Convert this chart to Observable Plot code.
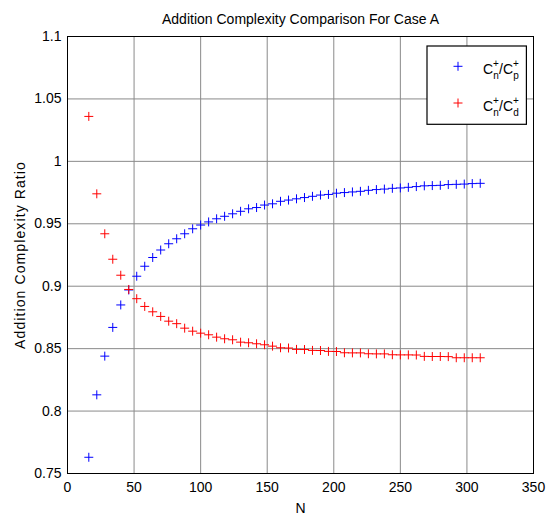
<!DOCTYPE html>
<html><head><meta charset="utf-8">
<script src="https://cdn.jsdelivr.net/npm/d3@7"></script>
<script src="https://cdn.jsdelivr.net/npm/@observablehq/plot@0.6"></script>
<style>
body{margin:0;background:#fff}
svg{font-family:"Liberation Sans",Arial,Helvetica,sans-serif}
</style>
</head><body><div id="chart"></div>
<script>
const N = [16,22,28,34,40,46,52,58,64,70,76,82,88,94,100,106,112,118,124,130,136,142,148,154,160,166,172,178,184,190,196,202,208,214,220,226,232,238,244,250,256,262,268,274,280,286,292,298,304,310];
const ratioP = [0.763,0.813,0.844,0.867,0.885,0.897,0.908,0.916,0.923,0.929,0.934,0.938,0.942,0.946,0.949,0.9515,0.954,0.956,0.958,0.960,0.962,0.963,0.965,0.966,0.968,0.969,0.970,0.971,0.972,0.973,0.9735,0.9745,0.975,0.9755,0.976,0.9768,0.9774,0.9778,0.9784,0.9787,0.9792,0.9798,0.9804,0.9806,0.9808,0.9814,0.9816,0.9818,0.9822,0.9824];
const ratioD = [1.036,0.974,0.942,0.9216,0.9088,0.8974,0.890,0.8838,0.8795,0.8758,0.872,0.870,0.8664,0.864,0.8624,0.8611,0.8592,0.8579,0.8571,0.8552,0.8547,0.8539,0.8531,0.852,0.8507,0.8505,0.8494,0.8493,0.8486,0.8485,0.8478,0.8477,0.8467,0.8466,0.8466,0.8459,0.8458,0.8458,0.8451,0.845,0.845,0.8449,0.8438,0.8437,0.8437,0.8436,0.8427,0.8427,0.8427,0.8427];
const xTicks = [0,50,100,150,200,250,300,350];
const yTicks = [0.75,0.8,0.85,0.9,0.95,1,1.05,1.1];
const yTickLabels = ["0.75","0.8","0.85","0.9","0.95","1","1.05","1.1"];
const seriesColors = ["#0000ff","#ff0000"];
const seriesSub = ["p","d"];
const titleText = "Addition Complexity Comparison For Case A";
const xLabel = "N";
const yLabel = "Addition Complexity Ratio";

(function(){
const W = 549, H = 517;
const mL = 67, mR = 16, mT = 36, mB = 44;
const dotR = 3.0;

const seriesP = N.map((n,i)=>({N:n, ratio:ratioP[i]}));
const seriesD = N.map((n,i)=>({N:n, ratio:ratioD[i]}));

const svg = Plot.plot({
  width: W, height: H,
  marginLeft: mL, marginRight: mR, marginTop: mT, marginBottom: mB,
  style: {fontSize: "14px", fontFamily: "'Liberation Sans', Arial, sans-serif", background: "#fff", color: "#000"},
  x: {domain: [0,350], ticks: xTicks, tickSize: 0, tickPadding: 9, label: null},
  y: {domain: [0.75,1.1], ticks: yTicks, tickSize: 0, tickPadding: 6, label: null,
      tickFormat: d => yTickLabels[yTicks.findIndex(t => Math.abs(t-d) < 1e-9)]},
  marks: [
    Plot.gridX(xTicks, {stroke: "#8a8a8a", strokeOpacity: 1, strokeWidth: 1}),
    Plot.gridY(yTicks, {stroke: "#8a8a8a", strokeOpacity: 1, strokeWidth: 1}),
    Plot.dot(seriesP, {x: "N", y: "ratio", symbol: "plus", r: dotR, stroke: seriesColors[0], strokeWidth: 1}),
    Plot.dot(seriesD, {x: "N", y: "ratio", symbol: "plus", r: dotR, stroke: seriesColors[1], strokeWidth: 1}),
    Plot.frame({stroke: "#000", strokeWidth: 1}),
    Plot.text([titleText], {frameAnchor: "top", lineAnchor: "middle", dy: -17, fontSize: 14, fill: "#000"}),
    Plot.text([xLabel], {frameAnchor: "bottom", lineAnchor: "middle", dy: 35, fontSize: 14, fill: "#000"}),
    Plot.text([yLabel], {frameAnchor: "left", textAnchor: "middle", lineAnchor: "middle", dx: -47, rotate: -90, fontSize: 14, fill: "#000"})
  ]
});

const sel = d3.select(svg);
sel.selectAll("text").filter(function(){ return this.textContent === yLabel; })
  .style("letter-spacing", "1.1px");

const pRight = W - mR, pTop = mT;
const bw = 99.4, bh = 78.3;
const bx = pRight - 6.6 - bw, by = pTop + 10;
const g = sel.append("g").attr("text-anchor", "start");
g.append("rect").attr("x", bx).attr("y", by).attr("width", bw).attr("height", bh)
  .attr("fill", "#fff").attr("stroke", "#000").attr("stroke-width", 1.2);
const sym = d3.symbol(d3.symbolPlus, Math.PI*dotR*dotR);
seriesColors.forEach((c, i) => {
  const my = by + 20.3 + i*36.7;
  g.append("path").attr("d", sym()).attr("transform", `translate(${bx+31},${my})`)
    .attr("fill", "none").attr("stroke", c).attr("stroke-width", 1);
  const lx = bx + 56, ly = by + 28.3 + i*36.7;
  const t = (txt, x, y, fs) => g.append("text").attr("x", x).attr("y", y)
    .attr("text-anchor", "start").attr("font-size", fs).attr("fill", "#000").text(txt);
  t("C", lx, ly, 14);
  t("+", lx+10.1, ly-7, 10);
  t("n", lx+10.3, ly+4.5, 10);
  t("/C", lx+16, ly, 14);
  t("+", lx+30, ly-7, 10);
  t(seriesSub[i], lx+30.2, ly+4.5, 10);
});

document.getElementById("chart").appendChild(svg);
})();
</script>
</body></html>
